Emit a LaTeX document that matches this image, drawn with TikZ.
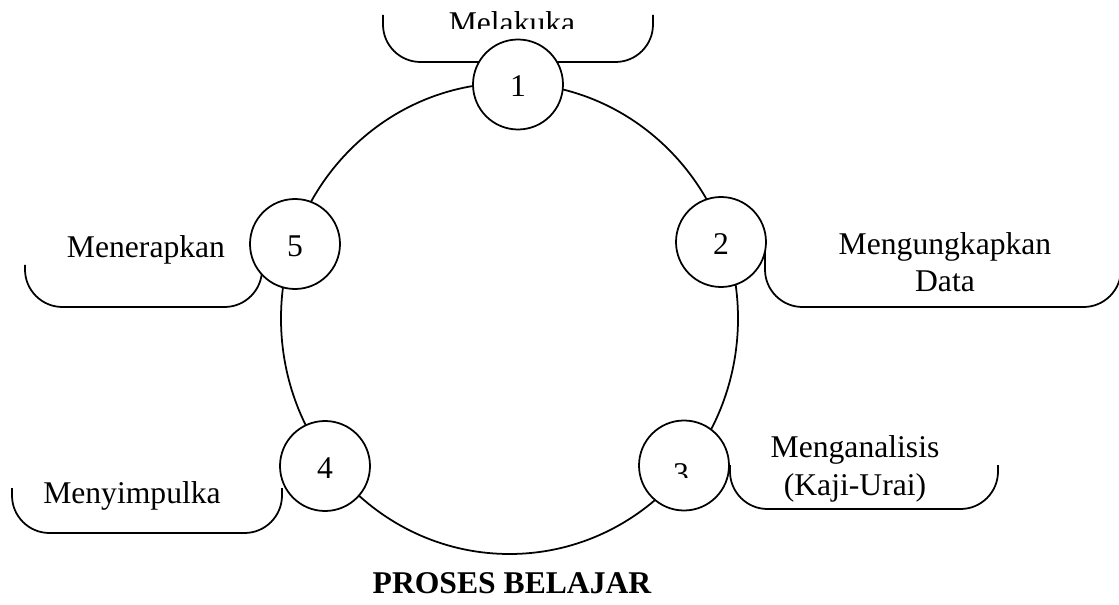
\documentclass[tikz,border=0pt]{standalone}
\usepackage{fontspec}
\setmainfont{Liberation Serif}
\usetikzlibrary{positioning}
\pgfdeclarelayer{edgelayer}
\pgfdeclarelayer{nodelayer}
\pgfsetlayers{edgelayer,nodelayer,main}
\tikzset{font=\fontsize{18}{21.5}\selectfont}
\tikzstyle{stage}=[circle,fill=white,draw=black,line width=1pt,minimum size=1.8cm,inner sep=0pt,text height=0.5cm]
\tikzstyle{bracket}=[draw=black,line width=1pt,rounded corners=0.75cm]
\tikzstyle{ring}=[draw=black,line width=1pt]
\tikzstyle{caption}=[align=center,anchor=base,inner sep=0pt]

\begin{document}
\begin{tikzpicture}
	\useasboundingbox (-10.19,-5.73) rectangle (12.19,6.37);
	\begin{pgfonlayer}{nodelayer}
		\node [style=stage] (s1) at (0.17,4.68) {1};
		\node [style=stage] (s2) at (4.23,1.53) {2};
		\node [style=stage] (s3) at (3.49,-2.94) {};
		\node [style=stage] (s4) at (-3.69,-2.95) {4};
		\node [style=stage] (s5) at (-4.29,1.49) {5};
		\begin{scope}
			\clip (-3,5.8) rectangle (3,6.4);
			\node [style=caption] (t1) at (0.05,5.69) {Melakuka};
		\end{scope}
		\begin{scope}
			\clip (2.9,-3.17) rectangle (4,-2.3);
			\node [style=caption] (n3) at (3.43,-3.32) {3};
		\end{scope}
		\node [style=caption] (t2) at (8.71,0.53) {Mengungkapkan\\Data};
		\node [style=caption] (t3) at (6.91,-3.53) {Menganalisis\\(Kaji-Urai)};
		\node [style=caption] (t4) at (-7.55,-3.69) {Menyimpulka};
		\node [style=caption] (t5) at (-7.27,1.21) {Menerapkan};
		\node [style=caption] (title) at (0.05,-5.49) {\bfseries PROSES BELAJAR};
	\end{pgfonlayer}
	\begin{pgfonlayer}{edgelayer}
		\draw [style=ring] (0,0) ellipse [x radius=4.57, y radius=4.71];
		\draw [style=bracket] (-2.53,6.07) |- (0,5.13) -| (2.87,6.07);
		\draw [style=bracket] (5.11,1.47) |- (8.7,0.23) -| (12.23,1.47);
		\draw [style=bracket] (4.41,-2.93) |- (7,-3.81) -| (9.77,-2.93);
		\draw [style=bracket] (-9.95,-3.39) |- (-7.3,-4.29) -| (-4.55,-3.39);
		\draw [style=bracket] (-9.69,1.07) |- (-7.3,0.23) -| (-4.95,1.07);
	\end{pgfonlayer}
\end{tikzpicture}
\end{document}
